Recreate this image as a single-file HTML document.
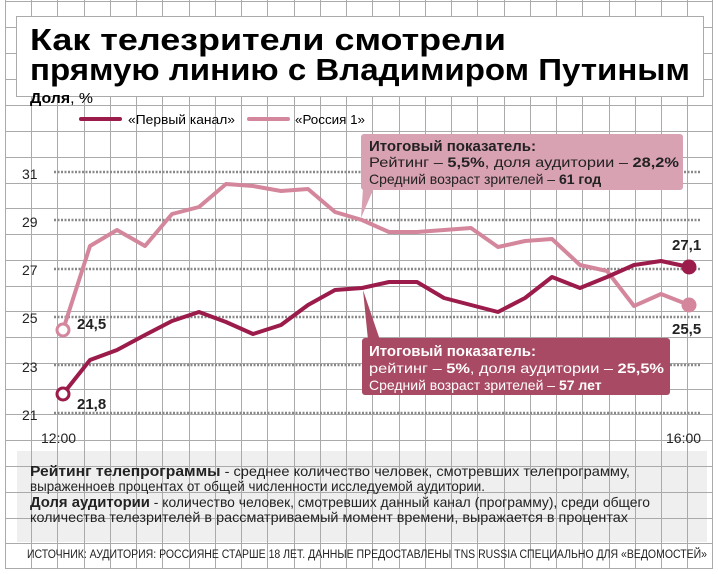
<!DOCTYPE html>
<html><head><meta charset="utf-8"><style>
html,body{margin:0;padding:0;background:#fff}
svg{display:block}
text{font-family:"Liberation Sans",sans-serif}
</style></head><body>
<svg width="718" height="574" xmlns="http://www.w3.org/2000/svg">
<rect width="718" height="574" fill="#fff"/>
<!-- gray explanation box -->
<rect x="17" y="451" width="690" height="91" fill="#efefef"/>
<!-- grid -->
<g stroke="#aaa" stroke-width="1">
<path d="M5.5 0V569M31.5 0V569M57.5 0V569M84.5 0V569M110.5 0V569M136.5 0V569M162.5 0V569M189.5 0V569M215.5 0V569M241.5 0V569M267.5 0V569M294.5 0V569M320.5 0V569M346.5 0V569M372.5 0V569M399.5 0V569M425.5 0V569M451.5 0V569M477.5 0V569M504.5 0V569M530.5 0V569M556.5 0V569M582.5 0V569M609.5 0V569M635.5 0V569M661.5 0V569M687.5 0V569M712.5 0V569"/>
<path d="M5 1.5H713M5 27.5H713M5 53.5H713M5 79.5H713M5 105.5H713M5 131.5H713M5 157.5H713M5 183.5H713M5 208.5H713M5 234.5H713M5 260.5H713M5 286.5H713M5 311.5H713M5 337.5H713M5 363.5H713M5 389.5H713M5 414.5H713M5 440.5H713M5 466.5H713M5 492.5H713M5 518.5H713M5 543.5H713M5 568.5H713"/>
</g>
<!-- title box -->
<rect x="16.5" y="16.5" width="687" height="80" fill="#fff" stroke="#aaa"/>
<text x="30" y="50" font-size="31" font-weight="bold" textLength="476" lengthAdjust="spacingAndGlyphs">Как телезрители смотрели</text>
<text x="30" y="80" font-size="31" font-weight="bold" textLength="660" lengthAdjust="spacingAndGlyphs">прямую линию с Владимиром Путиным</text>
<text x="30" y="103" font-size="15" textLength="63" lengthAdjust="spacingAndGlyphs"><tspan font-weight="bold">Доля</tspan>, %</text>
<!-- legend -->
<line x1="81" y1="119" x2="120" y2="119" stroke="#9b1b4a" stroke-width="4" stroke-linecap="round"/>
<text x="128" y="124" font-size="13" textLength="107" lengthAdjust="spacingAndGlyphs">«Первый канал»</text>
<line x1="249" y1="119" x2="288" y2="119" stroke="#d4879c" stroke-width="4" stroke-linecap="round"/>
<text x="295" y="124" font-size="13" textLength="70" lengthAdjust="spacingAndGlyphs">«Россия 1»</text>
<!-- dotted value lines -->
<g stroke="#888" stroke-width="2.5" stroke-dasharray="2 1.5">
<path d="M54 172H700M54 220H700M54 269H700M54 317H700M54 365H700M54 413H700"/>
</g>
<g font-size="14" fill="#222">
<text x="22" y="179">31</text><text x="22" y="227">29</text><text x="22" y="275">27</text>
<text x="22" y="323">25</text><text x="22" y="372">23</text><text x="22" y="420">21</text>
<text x="41" y="443">12:00</text><text x="666" y="443">16:00</text>
</g>
<!-- pink box -->
<rect x="361" y="134" width="322" height="56" rx="3" fill="#d9a2b3"/>
<path d="M363 188 L361 218 L374 188Z" fill="#d9a2b3"/>
<text x="369" y="151" font-size="15" font-weight="bold" fill="#222">Итоговый показатель:</text>
<text x="369" y="167" font-size="14" fill="#222" textLength="310" lengthAdjust="spacingAndGlyphs">Рейтинг – <tspan font-weight="bold">5,5%</tspan>, доля аудитории – <tspan font-weight="bold">28,2%</tspan></text>
<text x="369" y="184" font-size="14" fill="#222">Средний возраст зрителей – <tspan font-weight="bold">61 год</tspan></text>
<!-- dark box -->
<rect x="362" y="338" width="308" height="57" rx="3" fill="#a84a63"/>
<path d="M363 290 L368 340 L380 340Z" fill="#a84a63"/>
<text x="369" y="356" font-size="15" font-weight="bold" fill="#fff">Итоговый показатель:</text>
<text x="369" y="373" font-size="14" fill="#fff" textLength="295" lengthAdjust="spacingAndGlyphs">рейтинг – <tspan font-weight="bold">5%</tspan>, доля аудитории – <tspan font-weight="bold">25,5%</tspan></text>
<text x="369" y="390" font-size="14" fill="#fff">Средний возраст зрителей – <tspan font-weight="bold">57 лет</tspan></text>
<!-- series -->
<polyline fill="none" stroke="#d4879c" stroke-width="4" stroke-linejoin="round" points="63,330 90,246 117,230 145,246 172,214 199,207 226,184 253,186 281,191 308,189 335,212 362,220 389,232 417,232 444,230 471,228 498,247 525,241 552,239 580,265 607,271 634,306 661,294 689,305"/>
<polyline fill="none" stroke="#9b1b4a" stroke-width="4" stroke-linejoin="round" points="63,394 90,360 117,350 145,335 172,321 199,312 226,322 253,334 281,325 308,305 335,290 362,288 389,282 417,282 444,298 471,305 498,312 525,298 552,277 580,288 607,277 634,265 661,261 689,267"/>
<circle cx="63" cy="330" r="6" fill="#fff" stroke="#d4879c" stroke-width="3"/>
<circle cx="63" cy="394" r="6" fill="#fff" stroke="#9b1b4a" stroke-width="3"/>
<circle cx="689" cy="305" r="7.5" fill="#d4879c"/>
<circle cx="689" cy="267" r="7.5" fill="#9b1b4a"/>
<g font-size="15" font-weight="bold" fill="#222">
<text x="77" y="329">24,5</text><text x="77" y="409">21,8</text>
<text x="672" y="250">27,1</text><text x="672" y="334">25,5</text>
</g>
<!-- explanation -->
<g font-size="14" fill="#222">
<text x="30" y="476" textLength="600" lengthAdjust="spacingAndGlyphs"><tspan font-weight="bold" font-size="15">Рейтинг телепрограммы</tspan> - среднее количество человек, смотревших телепрограмму,</text>
<text x="30" y="491" textLength="455" lengthAdjust="spacingAndGlyphs">выраженноев процентах от общей численности исследуемой аудитории.</text>
<text x="30" y="507" textLength="620" lengthAdjust="spacingAndGlyphs"><tspan font-weight="bold" font-size="15">Доля аудитории</tspan> - количество человек, смотревших данный канал (программу), среди общего</text>
<text x="30" y="522" textLength="598" lengthAdjust="spacingAndGlyphs">количества телезрителей в рассматриваемый момент времени, выражается в процентах</text>
</g>
<text x="27" y="558" font-size="11.5" fill="#222" textLength="680" lengthAdjust="spacingAndGlyphs">ИСТОЧНИК: АУДИТОРИЯ: РОССИЯНЕ СТАРШЕ 18 ЛЕТ. ДАННЫЕ ПРЕДОСТАВЛЕНЫ TNS RUSSIA СПЕЦИАЛЬНО ДЛЯ «ВЕДОМОСТЕЙ»</text>
</svg>
</body></html>
